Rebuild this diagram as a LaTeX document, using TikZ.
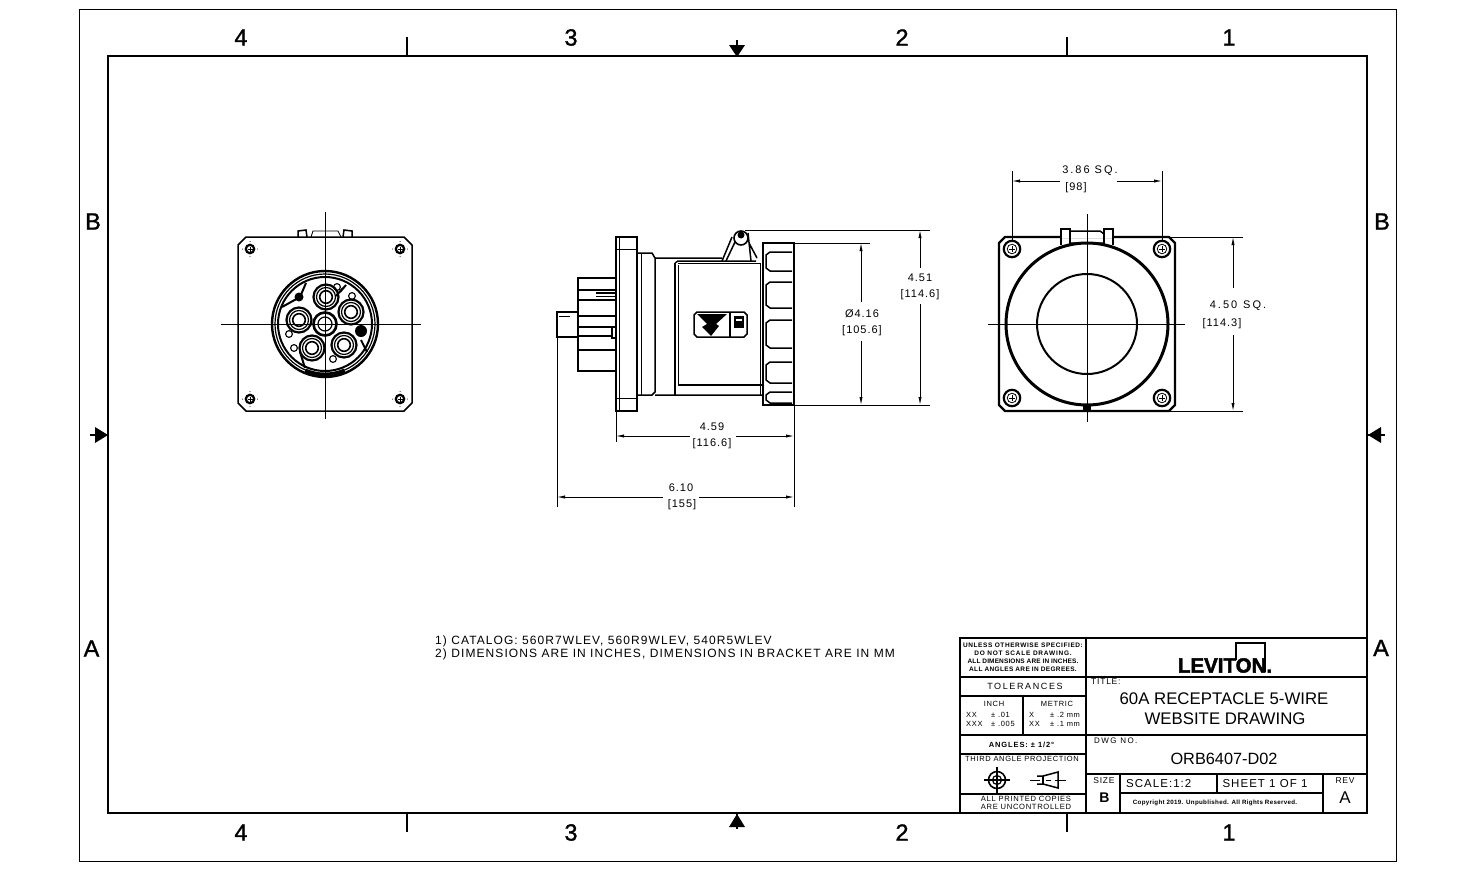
\documentclass[tikz,border=0pt]{standalone}
\usepackage{fontspec}
\setmainfont{Liberation Sans}
\newfontfamily\spcfont[LetterSpace=9]{Liberation Sans}
\newfontfamily\widefont[LetterSpace=18]{Liberation Sans}
\newfontfamily\zonefont[FakeBold=1.2]{Liberation Sans}
\newfontfamily\logofont[FakeBold=2.2]{Liberation Sans Bold}
\usetikzlibrary{arrows.meta}
\tikzset{
  thinl/.style={line width=0.8pt},
  medl/.style={line width=1.5pt},
  thickl/.style={line width=2.4pt},
  zone/.style={inner sep=0pt,font=\fontsize{23.5}{24}\selectfont\zonefont},
  dimtext/.style={inner sep=0pt,font=\fontsize{11}{11}\selectfont\spcfont},
  tb/.style={inner sep=0pt,font=\fontsize{#1}{#1}\selectfont\spcfont},
  tbw/.style={inner sep=0pt,font=\fontsize{#1}{#1}\selectfont\widefont},
  tbb/.style={inner sep=0pt,font=\fontsize{#1}{#1}\selectfont\bfseries},
  dima/.style={thinl,{Latex[length=8pt,width=3.2pt]}-{Latex[length=8pt,width=3.2pt]}},
  enda/.style={thinl,-{Latex[length=8pt,width=3.2pt]}},
  starta/.style={thinl,{Latex[length=8pt,width=3.2pt]}-},
}
\newcommand{\scr}[2]{%
  \draw[line width=2.2pt] (#1,#2) circle (4.2);
  \draw[line width=0.8pt] (#1-2.5,#2)--(#1+2.5,#2) (#1,#2-2.5)--(#1,#2+2.5);
  \fill (#1-7.5,#2) circle (0.5) (#1+7.5,#2) circle (0.5) (#1,#2-7.5) circle (0.5) (#1,#2+7.5) circle (0.5);
}
\newcommand{\bscr}[2]{%
  \draw[line width=2.2pt] (#1,#2) circle (8.2);
  \draw[line width=0.8pt] (#1,#2) circle (4.8);
  \draw[line width=0.8pt] (#1-3,#2)--(#1+3,#2) (#1,#2-3)--(#1,#2+3);
}
\newcommand{\pinc}[2]{%
  \draw[line width=2.2pt] (#1,#2) circle (12.5);
  \draw[line width=1.2pt] (#1,#2) circle (9.5);
  \draw[line width=1.6pt] (#1,#2) circle (6.3);
}
\begin{document}
\begin{tikzpicture}[x=1pt,y=-1pt]
\useasboundingbox (0,0) rectangle (1475,870);
\fill[white] (0,0) rectangle (1475,870);
% frames
\draw[thinl] (79,9) rectangle (1396,861);
\draw[thickl] (108,56) rectangle (1367,813);
\draw[medl] (407,37)--(407,56) (1067,37)--(1067,56) (407,813)--(407,832) (1067,813)--(1067,832);
% centring arrows
\draw[medl] (737,40)--(737,56) (737,813)--(737,829) (90,435)--(108,435) (1367,435)--(1385,435);
\fill (729,45)--(745,45)--(737,57)--cycle;
\fill (729,827)--(745,827)--(737,814)--cycle;
\fill (95,427)--(95,443)--(108,435)--cycle;
\fill (1381,427)--(1381,443)--(1368,435)--cycle;
% zones
\foreach \n/\x/\t in {zta/241/4,ztb/571/3,ztc/902/2,ztd/1229/1}{\node[zone] (\n) at (\x,37.5) {\t};}
\foreach \n/\x/\t in {zba/241/4,zbb/571/3,zbc/902/2,zbd/1229/1}{\node[zone] (\n) at (\x,832.5) {\t};}
\node[zone] (zlb) at (93,221.5) {B};
\node[zone] (zrb) at (1382,221.5) {B};
\node[zone] (zla) at (91.5,648.5) {A};
\node[zone] (zra) at (1381,648) {A};

% ---------- front view
\draw[medl] (246,237)--(404,237)--(412,245)--(412,403)--(404,411)--(246,411)--(238,403)--(238,245)--cycle;
\draw[medl] (298,237)--(298,231)--(306,230)--(307,237) (343,237)--(344,230)--(352,231)--(352,237);
\draw[thinl] (311,237)--(313,231)--(338,231)--(341,237);
\draw[thinl] (221,324)--(421,324) (325,212)--(325,419);
\scr{250}{249}\scr{400}{249}\scr{250}{399}\scr{400}{399}
\draw[line width=2.4pt] (325,324) circle (53);
\draw[line width=1.2pt] (325,324) circle (50);
\draw[line width=2pt] (325,324) circle (47);
\draw[line width=5pt] (305,371) arc (113:67:51);
\pinc{326}{297}\pinc{351}{312}\pinc{299}{320}\pinc{312}{348}\pinc{344}{345}
\draw[line width=2.6pt] (325,324) circle (11.5);
\draw[line width=1.2pt] (325,324) circle (7);
\foreach \x/\y in {337/287,352/296,289/334,294/348,333/359}{\draw[line width=1.1pt] (\x,\y) circle (3.4);}
\fill (299,297) circle (4.5);
\fill (361,331) circle (6);
\draw[line width=2pt] (282,307)--(300,297)--(306,283) (361,340)--(367,352)
      (300,352)--(305,368) (340,292)--(346,285) (336,296)--(343,288);

% ---------- side view
\draw[medl] (616,237)--(637,237)--(637,411)--(616,411)--cycle;
\draw[thinl] (619,237)--(619,411) (616,249)--(637,249) (616,398)--(637,398);
\draw[medl] (637,253)--(652,253)--(655,258)--(655,392)--(652,395)--(637,395)--cycle;
\draw[thinl] (641,253)--(641,395);
\draw[medl] (655,258)--(722,258) (675,263)--(678,261)--(756,261) (655,395)--(763,395);
\draw[medl] (675,263)--(675,395);
\draw[thinl] (678,265)--(678,385);
\draw[medl] (678,385)--(763,385);
\draw[thinl] (678,263)--(760,263);
\draw[thinl] (760,263)--(760,395);
% nozzle
\draw[medl] (763,243)--(794,243)--(794,405)--(763,405)--cycle;
\draw[thickl] (794,243)--(794,405);
\foreach \a/\b in {252/271,282/308,320/348,362/383,392/403}{
  \draw[medl] (792,\a)--(770,\a)--(766,\a+3)--(766,\b-3)--(770,\b)--(792,\b);}
% rear
\draw[thickl] (616,278)--(578,278)--(578,371)--(616,371);
\draw[medl] (578,290)--(616,290) (578,300)--(616,300) (596,293)--(616,293) (578,316)--(616,316) (578,327)--(616,327) (578,336)--(612,336) (578,350)--(616,350);
\draw[thinl] (596,296)--(616,296);
\draw[medl] (612,327)--(612,338)--(616,338);
\draw[medl] (578,312)--(557,312)--(557,337)--(578,337);
\draw[thinl] (559,316)--(570,316);
% hinge
\draw[medl] (722,261)--(732,237) (726,261)--(735,242) (751,261)--(748,233) (757,258)--(749,243);
\draw[line width=1.6pt] (741,238) circle (7);
\fill (741,235) circle (3.5);
\draw[thinl] (745,230)--(930,230);
% plate
\draw[medl] (697,312)--(744,312)--(747,315)--(747,334)--(744,337)--(697,337)--(694,334)--(694,315)--cycle;
\draw[medl] (730,312)--(730,337);
\fill (697,314)--(727,314)--(716,324)--(719,326)--(711,336)--(702,327)--(707,324)--cycle;
\fill (734,316) rectangle (744,328);
\fill[white] (736,319) rectangle (742,321);

% side dims
\draw[thinl] (794,243)--(870,243) (794,405)--(930,405);
\draw[thinl] (616,412)--(616,442) (794,406)--(794,507) (557,337)--(557,507);
\draw[starta] (861,243)--(861,302);
\draw[enda] (861,341)--(861,405);
\draw[starta] (920,230)--(920,268);
\draw[enda] (920,304)--(920,405);
\draw[starta] (616,436)--(690,436);
\draw[enda] (736,436)--(794,436);
\draw[starta] (557,497)--(663,497);
\draw[enda] (699,497)--(794,497);
\node[dimtext] (d416) at (862,314) {Ø4.16};
\node[dimtext] (d416b) at (862,331) {[105.6]};
\node[dimtext] (d451) at (920,278) {4.51};
\node[dimtext] (d451b) at (920,295) {[114.6]};
\node[dimtext] (d459) at (712,427) {4.59};
\node[dimtext] (d459b) at (712,444) {[116.6]};
\node[dimtext] (d610) at (681,488) {6.10};
\node[dimtext] (d610b) at (682,505) {[155]};

% ---------- rear view
\draw[line width=2.2pt] (1005,237)--(1169,237)--(1175,243)--(1175,405)--(1169,411)--(1005,411)--(999,405)--(999,243)--cycle;
\fill[white] (1062,231) rectangle (1112,238);
\draw[medl] (1061,245)--(1061,229)--(1070,229)--(1070,245) (1104,245)--(1104,229)--(1113,229)--(1113,245);
\draw[medl] (1070,231)--(1100,231)--(1104,234) (1070,243)--(1104,243);
\draw[line width=3pt] (1087,324) circle (81);
\draw[line width=2pt] (1087,324) circle (50);
\fill (1083,405) rectangle (1091,411);
\draw[thinl] (988,324)--(1083,324) (1091,324)--(1185,324) (1087,214)--(1087,320) (1087,328)--(1087,422);
\draw[thinl] (1083,324)--(1091,324) (1087,320)--(1087,328);
\bscr{1012}{249}\bscr{1162}{249}\bscr{1012}{398}\bscr{1162}{398}
\draw[thinl] (1012,171)--(1012,241) (1162,171)--(1162,241);
\draw[starta] (1012,181)--(1060,181);
\draw[enda] (1117,181)--(1162,181);
\draw[thinl] (1165,237)--(1243,237) (1165,411)--(1243,411);
\draw[starta] (1233,237)--(1233,288);
\draw[enda] (1233,335)--(1233,411);
\node[dimtext,tbw=11] (d386) at (1090,171) {3.86  SQ.};
\node[dimtext] (d386b) at (1076,188) {[98]};
\node[dimtext,tbw=11] (d450) at (1238,306) {4.50\hspace{6pt}SQ.};
\node[dimtext] (d450b) at (1222,324) {[114.3]};

% ---------- notes
\node[tb=12,anchor=west] (n1) at (435,641) {1) CATALOG: 560R7WLEV, 560R9WLEV, 540R5WLEV};
\node[tb=12,anchor=west] (n2) at (435,654.5) {2) DIMENSIONS ARE IN INCHES, DIMENSIONS IN BRACKET ARE IN MM};

% ---------- title block
\draw[thickl] (960,813)--(960,638)--(1367,638);
\draw[thickl] (1086,638)--(1086,813);
\draw[medl] (960,677)--(1367,677) (960,696)--(1086,696) (960,735)--(1367,735) (960,754)--(1086,754) (960,794)--(1086,794) (1086,774)--(1367,774);
\draw[medl] (1023,696)--(1023,735) (1120,774)--(1120,813) (1217,774)--(1217,793) (1323,774)--(1323,813) (1120,793)--(1323,793);
\node[tbb=6.5] (u1) at (1023,645.5) {\addfontfeatures{LetterSpace=9}UNLESS OTHERWISE SPECIFIED:};
\node[tbb=6.5] (u2) at (1023,653.5) {\addfontfeatures{LetterSpace=12}DO NOT SCALE DRAWING.};
\node[tbb=6.5] (u3) at (1023,661.5) {\addfontfeatures{LetterSpace=2}ALL DIMENSIONS ARE IN INCHES.};
\node[tbb=6.5] (u4) at (1023,669.5) {\addfontfeatures{LetterSpace=5}ALL ANGLES ARE IN DEGREES.};
\node[tbw=9] (t1) at (1025,686.5) {TOLERANCES};
\node[tb=7.5] (t2) at (994,704) {INCH};
\node[tb=7.5] (t3) at (1057,704) {METRIC};
\node[tb=7.5,anchor=west] (t4) at (966,714.5) {XX};
\node[tb=7.5,anchor=west] (t5) at (966,724) {XXX};
\node[tb=7.5,anchor=west] (t6) at (991,714.5) {± .01};
\node[tb=7.5,anchor=west] (t7) at (991,724) {± .005};
\node[tb=7.5,anchor=west] (t8) at (1029,714.5) {X};
\node[tb=7.5,anchor=west] (t9) at (1029,724) {XX};
\node[tb=7.5,anchor=west] (t10) at (1050,714.5) {± .2 mm};
\node[tb=7.5,anchor=west] (t11) at (1050,724) {± .1 mm};
\node[tbb=7.5] (t12) at (1021.5,745) {\addfontfeatures{LetterSpace=12}ANGLES: ± 1/2°};
\node[tb=7.5] (t13) at (1022,759) {THIRD ANGLE PROJECTION};
\node[tb=7.6] (t14) at (1026,798.5) {ALL PRINTED COPIES};
\node[tb=7.6] (t15) at (1026,807) {ARE UNCONTROLLED};
% projection symbol
\draw[line width=1.6pt] (997,780) circle (8.5);
\draw[line width=1.2pt] (997,780) circle (4.5);
\fill (997,780) circle (1.6);
\draw[medl] (984,780)--(1010,780) (997,767)--(997,793);
\draw[medl] (1037,776)--(1043,776)--(1058,772)--(1058,788)--(1043,784)--(1037,784);
\draw[medl] (1043,776)--(1043,784);
\draw[thinl] (1030,780)--(1040,780) (1046,780)--(1051,780) (1055,780)--(1066,780);
% logo
\draw[medl] (1236,660)--(1236,643)--(1265,643)--(1265,672);
\node[inner sep=0pt,font=\fontsize{20.5}{21}\selectfont\logofont] (logo) at (1225,665.5) {LEVITON.};
% right text
\node[tb=8.5,anchor=west] (ti) at (1091,682) {TITLE:};
\node[inner sep=0pt,font=\fontsize{16.8}{17}\selectfont] (ti1) at (1224,698.5) {60A RECEPTACLE 5-WIRE};
\node[inner sep=0pt,font=\fontsize{16.8}{17}\selectfont] (ti2) at (1225,719) {WEBSITE DRAWING};
\node[tbw=8,anchor=west] (dw) at (1094,741) {DWG NO.};
\node[inner sep=0pt,font=\fontsize{16.3}{17}\selectfont] (dw1) at (1224,759) {ORB6407-D02};
\node[tb=8.5] (sz) at (1104,781) {SIZE};
\node[tbb=14] (szb) at (1104.5,798) {B};
\node[tb=11.5,anchor=west] (sc) at (1126,784) {SCALE:1:2};
\node[tb=11.5] (sh) at (1265,784) {SHEET 1 OF 1};
\node[tb=8.5] (rv) at (1345,781) {REV};
\node[inner sep=0pt,font=\fontsize{17}{17}\selectfont] (rva) at (1345,798) {A};
\node[tbb=6.2] (cp) at (1215,802.5) {\addfontfeatures{LetterSpace=5}Copyright 2019. Unpublished. All Rights Reserved.};
\end{tikzpicture}
\end{document}
